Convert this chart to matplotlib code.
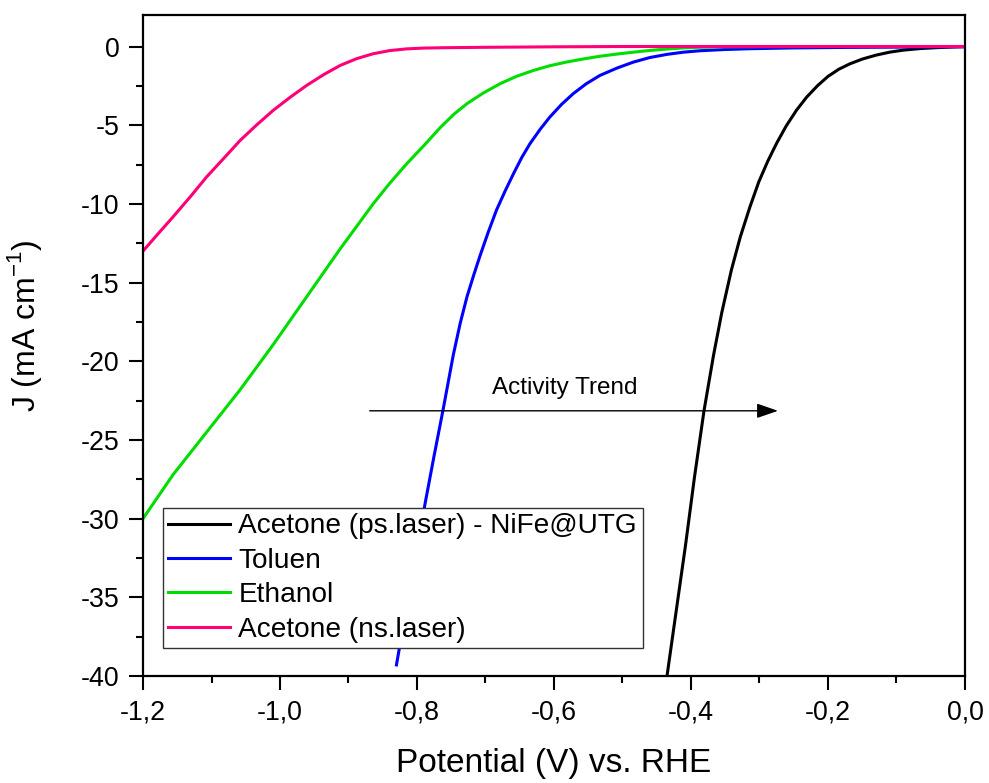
import matplotlib
matplotlib.use("Agg")
import matplotlib.pyplot as plt
from matplotlib.ticker import MultipleLocator, FuncFormatter

plt.rcParams['font.family'] = ['Liberation Sans', 'DejaVu Sans']

# Data (Potential V vs RHE, J mA cm^-1)
black_x = [-0.435, -0.422, -0.408, -0.395, -0.381, -0.367, -0.355, -0.341, -0.328, -0.314,
           -0.301, -0.288, -0.275, -0.261, -0.246, -0.231, -0.215, -0.200, -0.184, -0.168,
           -0.150, -0.130, -0.110, -0.090, -0.065, -0.040, -0.020, 0.0]
black_y = [-40.0, -36.0, -31.7, -27.4, -23.15, -19.6, -16.9, -14.2, -12.1, -10.2,
           -8.6, -7.3, -6.15, -5.05, -4.05, -3.21, -2.48, -1.90, -1.44, -1.10,
           -0.80, -0.55, -0.36, -0.23, -0.13, -0.07, -0.03, 0.0]

blue_x = [-0.830, -0.816, -0.802, -0.788, -0.775, -0.762, -0.747, -0.737, -0.727, -0.717,
          -0.708, -0.696, -0.684, -0.671, -0.659, -0.647, -0.635, -0.620, -0.606, -0.589,
          -0.572, -0.553, -0.533, -0.508, -0.484, -0.460, -0.435, -0.411, -0.387, -0.350,
          -0.314, -0.250, -0.180, -0.100, 0.0]
blue_y = [-39.3, -35.8, -32.4, -29.0, -26.0, -23.1, -19.6, -17.6, -15.9, -14.5,
          -13.3, -11.8, -10.4, -9.15, -8.07, -7.05, -6.17, -5.25, -4.48, -3.68,
          -3.00, -2.37, -1.84, -1.37, -0.99, -0.70, -0.50, -0.36, -0.27, -0.19,
          -0.14, -0.09, -0.06, -0.04, -0.02]

green_x = [-1.200, -1.156, -1.107, -1.058, -1.010, -0.961, -0.912, -0.864, -0.840, -0.815,
           -0.790, -0.766, -0.746, -0.727, -0.703, -0.679, -0.655, -0.630, -0.606, -0.582,
           -0.557, -0.533, -0.508, -0.484, -0.460, -0.435, -0.411, -0.387, -0.350, -0.300,
           -0.200, -0.100, 0.0]
green_y = [-30.0, -27.2, -24.5, -21.8, -18.95, -15.9, -12.85, -10.0, -8.7, -7.45,
           -6.3, -5.15, -4.3, -3.63, -2.95, -2.37, -1.90, -1.52, -1.22, -0.99,
           -0.79, -0.62, -0.48, -0.36, -0.25, -0.16, -0.09, -0.05, -0.02, -0.01,
           0.0, 0.0, 0.0]

pink_x = [-1.200, -1.178, -1.156, -1.131, -1.107, -1.082, -1.058, -1.034, -1.010, -0.985,
          -0.961, -0.936, -0.912, -0.888, -0.864, -0.840, -0.815, -0.790, -0.766, -0.700,
          -0.600, -0.500, -0.400, -0.300, -0.200, -0.100, 0.0]
pink_y = [-13.0, -11.9, -10.82, -9.55, -8.28, -7.1, -5.96, -4.98, -4.06, -3.22,
          -2.47, -1.78, -1.20, -0.77, -0.46, -0.26, -0.15, -0.10, -0.08, -0.05,
          -0.02, 0.0, 0.0, 0.0, 0.0, 0.0, 0.0]

labels = ["Acetone (ps.laser) - NiFe@UTG", "Toluen", "Ethanol", "Acetone (ns.laser)"]
colors = ["#000000", "#0000ff", "#00dd00", "#ff0077"]

arrow_start = (-0.869, -23.15)
arrow_end = (-0.273, -23.15)
arrow_text = "Activity Trend"
arrow_text_pos = (-0.584, -21.7)

fig = plt.figure(figsize=(9.89, 7.83), dpi=100)
ax = fig.add_axes([0.1446, 0.1367, 0.8311, 0.8441])

series = [(black_x, black_y), (blue_x, blue_y), (green_x, green_y), (pink_x, pink_y)]
for (xs, ys), lab, c in zip(series, labels, colors):
    ax.plot(xs, ys, color=c, lw=2.2, label=lab, solid_joinstyle='round')

ax.set_xlim(-1.2, 0.0)
ax.set_ylim(-40, 2)
ax.xaxis.set_major_locator(MultipleLocator(0.2))
ax.xaxis.set_minor_locator(MultipleLocator(0.1))
ax.yaxis.set_major_locator(MultipleLocator(5))
ax.yaxis.set_minor_locator(MultipleLocator(2.5))

ax.xaxis.set_major_formatter(FuncFormatter(
    lambda v, p: ("%.1f" % v).replace('.', ',') if abs(v) > 1e-9 else "0,0"))
ax.yaxis.set_major_formatter(FuncFormatter(lambda v, p: "%d" % round(v)))

ax.tick_params(which='major', direction='out', length=10, width=1.5, labelsize=19.3, pad=7,
               top=False, right=False)
ax.tick_params(which='minor', direction='out', length=5, width=1.5, top=False, right=False)
for s in ax.spines.values():
    s.set_linewidth(1.6)

ax.set_xlabel("Potential (V) vs. RHE", fontsize=24, labelpad=16)
ax.set_ylabel(r"J (mA cm$^{\mathregular{-1}}$)", fontsize=23)
ax.yaxis.set_label_coords(-0.12, 0.53)

ax.annotate("", xy=arrow_end, xytext=arrow_start,
            arrowprops=dict(arrowstyle="-|>,head_length=1.3,head_width=0.45", color='black',
                            lw=1.0, shrinkA=0, shrinkB=0))
ax.text(arrow_text_pos[0], arrow_text_pos[1], arrow_text, fontsize=17.5, ha='center', va='center')

leg = ax.legend(loc='lower left', bbox_to_anchor=(0.024, 0.042), borderaxespad=0,
                fontsize=20.2, frameon=True, fancybox=False, framealpha=1.0, handlelength=2.2,
                handletextpad=0.3, labelspacing=0.3, borderpad=0.2)
leg.get_frame().set_edgecolor('#333333')
leg.get_frame().set_linewidth(1.0)

fig.savefig("out.png", dpi=100)
